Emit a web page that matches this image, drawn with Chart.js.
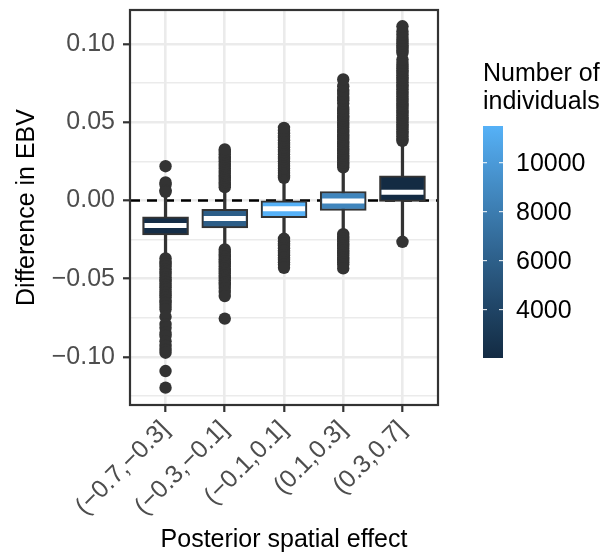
<!DOCTYPE html>
<html><head><meta charset="utf-8">
<script src="https://cdn.jsdelivr.net/npm/chart.js@4/dist/chart.umd.min.js"></script>
<style>html,body{margin:0;padding:0;background:#fff}#wrap{width:613px;height:559px;position:relative}</style>
</head><body><div id="wrap"><canvas id="c" width="613" height="559"></canvas></div>
<script>
// ---------------- data ----------------
const categories = ['(−0.7,−0.3]', '(−0.3,−0.1]', '(−0.1,0.1]', '(0.1,0.3]', '(0.3,0.7]'];
const q1 = [-0.0221, -0.0175, -0.0110, -0.0064, -0.0006];
const median = [-0.0160, -0.0115, -0.0053, -0.0004, 0.0053];
const q3 = [-0.0104, -0.0057, -0.0002, 0.0057, 0.0157];
const whiskerLow = [-0.0356, -0.0302, -0.0228, -0.0206, -0.0235];
const whiskerHigh = [0.0035, 0.0070, 0.0134, 0.0198, 0.0368];
const nIndividuals = [2300, 5900, 11500, 8600, 2025];

const outliers1 = [0.0219, 0.0115, 0.0100, 0.0065, 0.0055,
  -0.0370, -0.0390, -0.0405, -0.0420, -0.0440, -0.0455, -0.0470, -0.0490, -0.0505, -0.0520,
  -0.0540, -0.0555, -0.0570, -0.0590, -0.0605, -0.0620, -0.0640, -0.0655, -0.0675, -0.0695,
  -0.0743, -0.0790, -0.0813, -0.0845, -0.0866, -0.0900, -0.0930, -0.0955, -0.0973, -0.1090, -0.1196];
const outliers2 = [0.0085, 0.0100, 0.0115, 0.0130, 0.0145, 0.0160, 0.0175, 0.0190, 0.0205, 0.0220,
  0.0235, 0.0250, 0.0265, 0.0280, 0.0295, 0.0310, 0.0326,
  -0.0313, -0.0330, -0.0345, -0.0360, -0.0375, -0.0390, -0.0405, -0.0420, -0.0435, -0.0450,
  -0.0465, -0.0480, -0.0495, -0.0510, -0.0525, -0.0540, -0.0560, -0.0585, -0.0611, -0.0755];
const outliers3 = [0.0145, 0.0160, 0.0175, 0.0190, 0.0205, 0.0220, 0.0235, 0.0250, 0.0265, 0.0280,
  0.0295, 0.0310, 0.0325, 0.0340, 0.0355, 0.0370, 0.0385, 0.0400, 0.0415, 0.0430, 0.0445, 0.0464,
  -0.0245, -0.0260, -0.0275, -0.0290, -0.0305, -0.0320, -0.0335, -0.0350, -0.0365, -0.0380,
  -0.0395, -0.0410, -0.0430];
const outliers4 = [0.0212, 0.0227, 0.0242, 0.0257, 0.0272, 0.0287, 0.0302, 0.0317, 0.0332, 0.0347,
  0.0362, 0.0377, 0.0392, 0.0407, 0.0422, 0.0437, 0.0452, 0.0467, 0.0482, 0.0497, 0.0512, 0.0527,
  0.0542, 0.0557, 0.0572, 0.0590, 0.0620, 0.0640, 0.0655, 0.0680, 0.0700, 0.0730, 0.0773,
  -0.0215, -0.0230, -0.0245, -0.0260, -0.0275, -0.0290, -0.0305, -0.0320, -0.0335, -0.0350,
  -0.0365, -0.0380, -0.0395, -0.0410, -0.0434];
const outliers5 = [0.0380, 0.0395, 0.0410, 0.0425, 0.0440, 0.0455, 0.0470, 0.0485, 0.0500, 0.0515,
  0.0530, 0.0545, 0.0560, 0.0575, 0.0590, 0.0605, 0.0620, 0.0635, 0.0650, 0.0665, 0.0680, 0.0695,
  0.0710, 0.0725, 0.0740, 0.0755, 0.0770, 0.0785, 0.0800, 0.0815, 0.0830, 0.0845, 0.0860, 0.0880, 0.0900,
  0.0943, 0.0960, 0.0975, 0.0990, 0.1005, 0.1020, 0.1040, 0.1060, 0.1080, 0.1113,
  -0.0264];
const outliers = [outliers1, outliers2, outliers3, outliers4, outliers5];

const yTicks = [-0.125, -0.1, -0.075, -0.05, -0.025, 0, 0.025, 0.05, 0.075, 0.1];
const yMajorTicks = [-0.1, -0.05, 0, 0.05, 0.1];
const yMin = -0.1307, yMax = 0.1217;
const legendTicks = [4000, 6000, 8000, 10000];
const legendMin = 2025, legendMax = 11500;
const legendTitle = ['Number of', 'individuals'];
const xTitle = 'Posterior spatial effect';
const yTitle = 'Difference in EBV';

// ---------------- colour scale (Lab interpolation like ggplot) ----------------
const LOW = '#132B43', HIGH = '#56B1F7';
function hexToRgb(h){return [parseInt(h.slice(1,3),16),parseInt(h.slice(3,5),16),parseInt(h.slice(5,7),16)];}
function toLin(c){c/=255;return c<=0.04045?c/12.92:Math.pow((c+0.055)/1.055,2.4);}
function fromLin(c){const v=c<=0.0031308?12.92*c:1.055*Math.pow(c,1/2.4)-0.055;return Math.round(Math.max(0,Math.min(1,v))*255);}
function rgbToLab(rgb){
  const [r,g,b]=rgb.map(toLin);
  const X=(0.4124*r+0.3576*g+0.1805*b)/0.95047, Y=(0.2126*r+0.7152*g+0.0722*b), Z=(0.0193*r+0.1192*g+0.9505*b)/1.08883;
  const f=t=>t>0.008856?Math.cbrt(t):7.787*t+16/116;
  const fx=f(X),fy=f(Y),fz=f(Z);
  return [116*fy-16,500*(fx-fy),200*(fy-fz)];
}
function labToRgb(lab){
  const fy=(lab[0]+16)/116, fx=fy+lab[1]/500, fz=fy-lab[2]/200;
  const fi=t=>{const t3=t*t*t;return t3>0.008856?t3:(t-16/116)/7.787;};
  const X=0.95047*fi(fx),Y=fi(fy),Z=1.08883*fi(fz);
  const r=3.2406*X-1.5372*Y-0.4986*Z, g=-0.9689*X+1.8758*Y+0.0415*Z, b=0.0557*X-0.2040*Y+1.0570*Z;
  return 'rgb('+fromLin(r)+','+fromLin(g)+','+fromLin(b)+')';
}
const labLow=rgbToLab(hexToRgb(LOW)), labHigh=rgbToLab(hexToRgb(HIGH));
function colourFor(v){
  const t=Math.max(0,Math.min(1,(v-legendMin)/(legendMax-legendMin)));
  return labToRgb(labLow.map((a,i)=>a+(labHigh[i]-a)*t));
}

// ---------------- chart ----------------
const FONT = "'Liberation Sans', Arial, Helvetica, sans-serif";
const FS = 25;
const positions = categories.map((c,i)=>i+1);

const whiskerData = positions.map((x,i)=>({x, y:[whiskerLow[i], whiskerHigh[i]]}));
const boxData = positions.map((x,i)=>({x, y:[q1[i], q3[i]]}));
const medianData = positions.map((x,i)=>({x, y:median[i]}));
const outlierData = [];
outliers.forEach((arr,i)=>arr.forEach(v=>outlierData.push({x:positions[i], y:v})));

function noPad(s){ s.paddingTop=0; s.paddingBottom=0; s.paddingLeft=0; s.paddingRight=0; }

const zeroLine = {
  id:'zeroLine',
  beforeDatasetsDraw(chart){
    const {ctx, chartArea:a, scales:{y}} = chart;
    const py = y.getPixelForValue(0);
    ctx.save();
    ctx.strokeStyle='#000'; ctx.lineWidth=2.6; ctx.setLineDash([10,7]);
    ctx.beginPath(); ctx.moveTo(a.left, py); ctx.lineTo(a.right, py); ctx.stroke();
    ctx.restore();
  }
};
const panelBorder = {
  id:'panelBorder',
  afterDatasetsDraw(chart){
    const {ctx, chartArea:a} = chart;
    ctx.save(); ctx.strokeStyle='#333'; ctx.lineWidth=2.2;
    ctx.strokeRect(a.left, a.top, a.right-a.left, a.bottom-a.top);
    ctx.restore();
  }
};
const colourBar = {
  id:'colourBar',
  afterDraw(chart){
    const ctx = chart.ctx;
    const bx=483, by=126, bw=20, bh=232;
    ctx.save();
    ctx.fillStyle='#000'; ctx.font = FS+'px '+FONT; ctx.textBaseline='alphabetic'; ctx.textAlign='left';
    ctx.fillText(legendTitle[0], 483, 81);
    ctx.fillText(legendTitle[1], 483, 109);
    const grad = ctx.createLinearGradient(0, by+bh, 0, by);
    for(let k=0;k<=20;k++){ const t=k/20; grad.addColorStop(t, colourFor(legendMin+t*(legendMax-legendMin))); }
    ctx.fillStyle=grad; ctx.fillRect(bx,by,bw,bh);
    ctx.strokeStyle='#fff'; ctx.lineWidth=1;
    ctx.fillStyle='#000'; ctx.textBaseline='middle';
    legendTicks.forEach(v=>{
      const ty = by + (legendMax-v)/(legendMax-legendMin)*bh;
      ctx.beginPath(); ctx.moveTo(bx,ty); ctx.lineTo(bx+4,ty); ctx.moveTo(bx+bw-4,ty); ctx.lineTo(bx+bw,ty); ctx.stroke();
      ctx.fillText(String(v), 516, ty+1);
    });
    ctx.restore();
  }
};

new Chart(document.getElementById('c'), {
  type:'bar',
  data:{datasets:[
    {type:'bar', data:whiskerData, backgroundColor:'#333', borderWidth:0, barThickness:2.6, grouped:false, order:3},
    {type:'bar', data:boxData, backgroundColor:nIndividuals.map(colourFor), borderColor:'#333', borderWidth:2,
      borderSkipped:false, barThickness:46, grouped:false, order:2},
    {type:'scatter', data:medianData, pointStyle:'line', pointRadius:21, pointBorderWidth:5, pointBorderColor:'#fff',
      borderColor:'#fff', showLine:false, order:1},
    {type:'scatter', data:outlierData, pointRadius:6.2, pointBackgroundColor:'#333', pointBorderWidth:0,
      backgroundColor:'#333', showLine:false, order:0}
  ]},
  options:{
    responsive:false, animation:false, devicePixelRatio:1,
    layout:{autoPadding:false, padding:{top:10, right:175, left:0, bottom:0}},
    plugins:{legend:{display:false}, tooltip:{enabled:false}},
    scales:{
      x:{type:'linear', min:0.4, max:5.6, offset:false,
        afterBuildTicks(s){ s.ticks = positions.map(v=>({value:v})); },
        afterFit(s){ s.height = 154; noPad(s); },
        grid:{offset:false, color:'#EBEBEB', lineWidth:2.6, tickColor:'#333', tickLength:7, tickWidth:2.2},
        border:{display:false},
        ticks:{autoSkip:false, minRotation:45, maxRotation:45, padding:3, color:'#4D4D4D',
          font:{family:FONT, size:FS}, callback:(v)=>categories[v-1]},
        title:{display:true, text:xTitle, color:'#000', font:{family:FONT, size:FS}, padding:{top:0,bottom:4}}
      },
      y:{type:'linear', min:yMin, max:yMax,
        afterBuildTicks(s){ s.ticks = yTicks.map(v=>({value:v})); },
        afterFit(s){ s.width = 130; noPad(s); },
        grid:{color:'#EBEBEB',
          lineWidth:(c)=> yMajorTicks.includes(c.tick && c.tick.value) ? 2.6 : 1.4,
          tickColor:(c)=> yMajorTicks.includes(c.tick && c.tick.value) ? '#333' : 'rgba(0,0,0,0)',
          tickLength:7, tickWidth:2.2},
        border:{display:false},
        ticks:{autoSkip:false, padding:8, color:'#4D4D4D', font:{family:FONT, size:FS},
          callback:(v)=> yMajorTicks.includes(v) ? v.toFixed(2).replace('-','−') : ''},
        title:{display:true, text:yTitle, color:'#000', font:{family:FONT, size:FS}, padding:{top:12,bottom:0}}
      }
    }
  },
  plugins:[zeroLine, panelBorder, colourBar]
});
</script></body></html>
